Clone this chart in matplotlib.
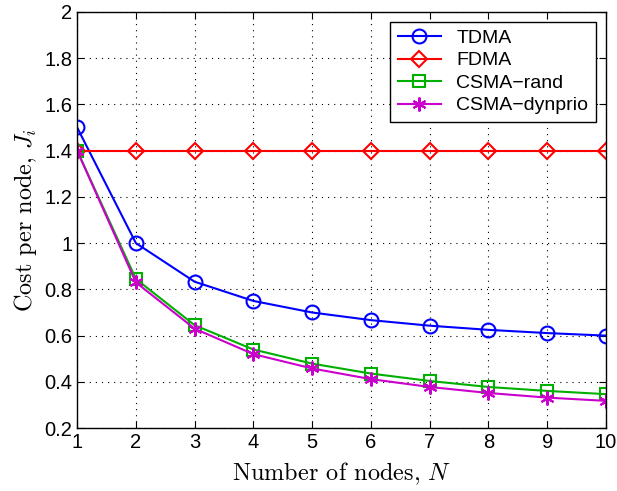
import numpy as np
import matplotlib.pyplot as plt

plt.rcParams['font.family'] = 'Liberation Sans'
plt.rcParams['mathtext.fontset'] = 'cm'

nodes = [1, 2, 3, 4, 5, 6, 7, 8, 9, 10]
tdma = [1.5, 1.0, 0.833, 0.75, 0.70, 0.667, 0.643, 0.625, 0.611, 0.60]
fdma = [1.4, 1.4, 1.4, 1.4, 1.4, 1.4, 1.4, 1.4, 1.4, 1.4]
csma_rand = [1.4, 0.845, 0.645, 0.54, 0.479, 0.436, 0.404, 0.378, 0.361, 0.347]
csma_dynprio = [1.4, 0.83, 0.63, 0.52, 0.458, 0.412, 0.378, 0.352, 0.332, 0.318]

fig = plt.figure(figsize=(6.17, 4.91), dpi=100)
ax = fig.add_axes([0.125, 0.128, 0.857, 0.848])

ax.plot(nodes, tdma, '-o', color='#0000ff', lw=1.5, ms=10, mfc='none', mew=1.5, label='TDMA')
ax.plot(nodes, fdma, '-D', color='#ff0000', lw=1.5, ms=8.5, mfc='none', mew=1.5, label='FDMA')
ax.plot(nodes, csma_rand, '-s', color='#00b000', lw=1.5, ms=8, mfc='none', mew=1.5, label='CSMA\u2212rand')
ax.plot(nodes, csma_dynprio, '-', marker=(6, 2, 0), color='#cc00cc', lw=1.5, ms=10, mew=1.5,
        label='CSMA\u2212dynprio')

ax.set_xlim(1, 10)
ax.set_ylim(0.2, 2)
ax.set_xticks(nodes)
ax.set_xticklabels([str(n) for n in nodes])
yt = [0.2, 0.4, 0.6, 0.8, 1.0, 1.2, 1.4, 1.6, 1.8, 2.0]
ax.set_yticks(yt)
ax.set_yticklabels(['0.2', '0.4', '0.6', '0.8', '1', '1.2', '1.4', '1.6', '1.8', '2'])
ax.tick_params(direction='in', top=True, right=True, labelsize=14.5, length=5)
ax.grid(True, color='black', linestyle=(0, (1, 4.5)), lw=0.8)
for s in ax.spines.values():
    s.set_linewidth(1.0)

ax.set_xlabel('Number of nodes, $N$', fontsize=17.5, labelpad=6)
ax.set_ylabel('Cost per node, $J_i$', fontsize=17.5, labelpad=4)
for lbl in (ax.xaxis.label, ax.yaxis.label):
    lbl.set_fontfamily(['cmr10', 'DejaVu Serif'])

leg = ax.legend(loc='upper right', fontsize=14, fancybox=False, edgecolor='black',
                framealpha=1, handlelength=2.2, borderpad=0.4, labelspacing=0.25)
leg.get_frame().set_linewidth(1.0)

fig.savefig('out.png', dpi=100)
